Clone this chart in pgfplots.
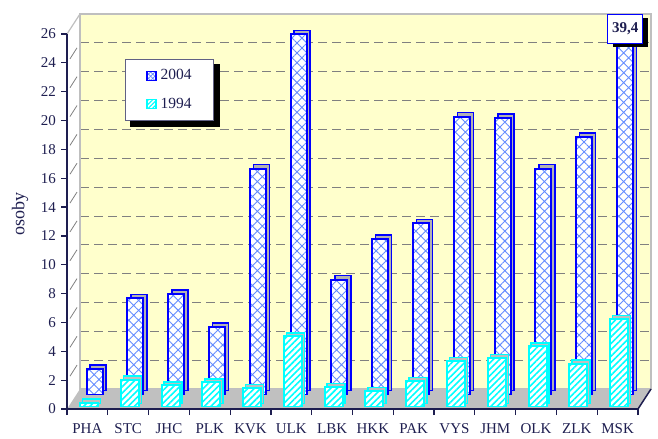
\documentclass[border=0pt]{standalone}
\usepackage{pgfplots}
\usepackage{pgfplotstable}
\pgfplotsset{compat=1.18}
\usepackage{fontspec}
\setmainfont{Liberation Serif}
\usetikzlibrary{patterns.meta,shadows}

\definecolor{navy}{RGB}{30,30,80}
\definecolor{wall}{RGB}{255,255,204}
\definecolor{floorc}{RGB}{192,192,192}
\definecolor{hatchb}{RGB}{100,140,255}
\definecolor{bblue}{RGB}{0,0,255}
\definecolor{bcyan}{RGB}{0,255,255}

\pgfplotstableread{
x  v04   v94
0  1.8   0.3
1  6.7   1.9
2  7.0   1.5
3  4.7   1.7
4  15.7  1.3
5  25.0  4.9
6  8.0   1.4
7  10.8  1.1
8  11.9  1.8
9  19.3  3.2
10 19.2  3.4
11 15.7  4.2
12 17.9  3.0
13 39.4  6.1
}\data

\begin{document}
\fontsize{15bp}{18bp}\selectfont
\begin{tikzpicture}
\useasboundingbox (0bp,0bp) rectangle (658bp,439bp);
\pgfplotsset{base/.style={scale only axis, width=571bp, height=375bp,
  xmin=-0.5, xmax=13.5, ymin=0, ymax=26, anchor=south west}}

% back wall with gridlines
\begin{axis}[base, at={(80bp,50bp)},
  axis background/.style={fill=wall},
  axis line style={draw=gray!50, line width=1.2bp},
  xtick=\empty, ytick={2,4,...,24}, yticklabels={}, major tick length=0pt,
  ymajorgrids, major grid style={draw=gray, line width=0.8bp, dash pattern=on 9bp off 5bp}]
\end{axis}

% floor and side wall
\begin{scope}[x=1bp,y=1bp]
\fill[floorc] (67,30) -- (638,30) -- (651,50) -- (80,50) -- cycle;
\draw[gray!50, line width=1.2bp] (67,405) -- (80,425);
\foreach \v in {2,4,...,24} {
  \draw[gray, line width=0.8bp] (70,{30+375*\v/26+4}) -- (77,{30+375*\v/26+15});
}
\draw[navy, line width=1.5bp] (638,30) -- (651,50);
\end{scope}

% 2004 bars: depth extrusion
\begin{axis}[base, at={(77.8bp,48bp)}, hide axis, ybar, bar width=16bp, bar shift=0pt]
\addplot[draw=bblue, fill=gray!60, line width=1.5bp] table[x=x,y=v04]{\data};
\end{axis}
% 2004 bars: front face
\begin{axis}[base, at={(74.3bp,44bp)}, hide axis, ybar, bar width=16bp, bar shift=0pt]
\addplot[draw=bblue, fill=white, line width=2bp,
  postaction={pattern={Hatch[angle=45,distance=7bp,line width=0.9bp]}, pattern color=hatchb, draw=bblue, line width=2bp}]
  table[x=x,y=v04]{\data};
\end{axis}

% 1994 bars: depth extrusion
\begin{axis}[base, at={(71.1bp,35.5bp)}, hide axis, ybar, bar width=18bp, bar shift=0pt]
\addplot[draw=bcyan, fill=gray!50, line width=1.5bp] table[x=x,y=v94]{\data};
\end{axis}
% 1994 bars: front face
\begin{axis}[base, at={(68.6bp,32bp)}, hide axis, ybar, bar width=18bp, bar shift=0pt]
\addplot[draw=bcyan, fill=white, line width=2bp,
  postaction={pattern={Lines[angle=45,distance=4.5bp,line width=1.6bp]}, pattern color=bcyan, draw=bcyan, line width=2bp}]
  table[x=x,y=v94]{\data};
\end{axis}

% front axes, labels, legend
\begin{axis}[base, at={(67bp,30bp)}, clip=false,
  axis x line*=bottom, axis y line*=left,
  axis line style={draw=navy, line width=1.5bp},
  ytick={0,2,...,26},
  xtick={-0.5,0.5,...,13.5}, x tick label as interval,
  xticklabels={PHA,STC,JHC,PLK,KVK,ULK,LBK,HKK,PAK,VYS,JHM,OLK,ZLK,MSK},
  tick align=outside, major tick length=6bp,
  tick style={draw=navy, line width=1.2bp},
  ticklabel style={font=\fontsize{15bp}{18bp}\selectfont, text=navy},
  xticklabel style={yshift=-3bp},
  /pgf/number format/assume math mode=true,
  ylabel={osoby},
  every axis y label/.style={at={(axis description cs:-0.0823,0.52)}, rotate=90, anchor=center,
     font=\fontsize{18bp}{21bp}\selectfont, text=navy},
  legend cell align=left,
  legend style={name=leg, at={(axis description cs:0.1016,0.9333)}, anchor=north west,
     draw=navy!70, fill=white, line width=0.8bp,
     inner xsep=21bp, inner ysep=9bp, row sep=14bp, column sep=3bp,
     nodes={inner sep=1bp, text=navy},
     font=\fontsize{15.5bp}{18bp}\selectfont},
]
\addlegendimage{legend image code/.code={
  \draw[bblue, line width=1.2bp, fill=white, postaction={pattern={Hatch[angle=45,distance=3bp,line width=0.6bp]}, pattern color=hatchb}] (0bp,-4.5bp) rectangle (9bp,4.5bp);}}
\addlegendentry{2004}
\addlegendimage{legend image code/.code={
  \draw[bcyan, line width=1.2bp, fill=white, postaction={pattern={Lines[angle=45,distance=3bp,line width=1bp]}, pattern color=bcyan}] (0bp,-4.5bp) rectangle (9bp,4.5bp);}}
\addlegendentry{1994}
\node[draw=bblue, line width=0.8bp, fill=white, text=navy, font=\fontsize{15bp}{18bp}\selectfont\bfseries,
  minimum width=35bp, minimum height=29bp, inner sep=2bp,
  drop shadow={shadow xshift=5bp, shadow yshift=-4bp, fill=black, opacity=1}]
  at (axis cs:13.19,26.38) {39,4};
\end{axis}
% legend shadow
\fill[black] ([xshift=0.4bp,yshift=-5bp]leg.north east) rectangle ([xshift=6bp,yshift=-6bp]leg.south east);
\fill[black] ([xshift=5bp,yshift=-0.4bp]leg.south west) rectangle ([xshift=6bp,yshift=-6bp]leg.south east);
\end{tikzpicture}
\end{document}
